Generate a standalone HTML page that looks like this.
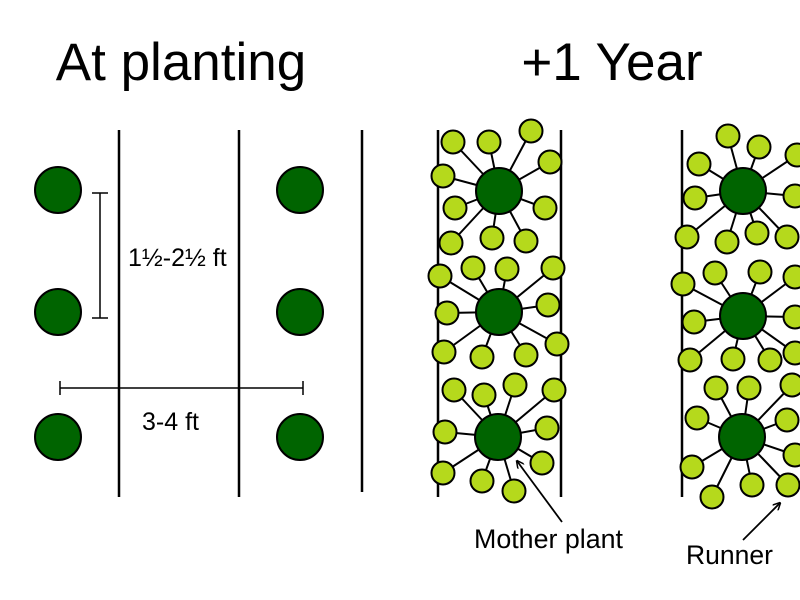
<!DOCTYPE html>
<html><head><meta charset="utf-8"><style>html,body{margin:0;padding:0;background:#fff}svg{display:block}</style></head>
<body>
<svg id="s" width="800" height="600" xmlns="http://www.w3.org/2000/svg" font-family="Liberation Sans, sans-serif">
<defs><marker id="ah" markerWidth="8" markerHeight="8" refX="7" refY="4" orient="auto" markerUnits="userSpaceOnUse"><path d="M0,0 L8,4 L0,8" fill="none" stroke="#000" stroke-width="1.5"/></marker></defs>
<text x="181" y="80" font-size="53" text-anchor="middle">At planting</text>
<text x="612" y="80" font-size="53" text-anchor="middle">+1 Year</text>
<g stroke="#000" stroke-width="2.5">
<line x1="119" y1="130" x2="119" y2="497"/><line x1="239" y1="130" x2="239" y2="497"/><line x1="362" y1="130" x2="362" y2="492"/>
<line x1="438" y1="130" x2="438" y2="497"/><line x1="561" y1="130" x2="561" y2="497"/><line x1="682" y1="130" x2="682" y2="497"/>
</g>
<g stroke="#000" stroke-width="1.5">
<line x1="100" y1="193" x2="100" y2="318"/><line x1="92" y1="193" x2="108" y2="193"/><line x1="92" y1="318" x2="108" y2="318"/>
<line x1="60" y1="388" x2="303" y2="388"/><line x1="60" y1="381" x2="60" y2="395"/><line x1="303" y1="381" x2="303" y2="395"/>
</g>
<text x="128" y="266" font-size="25">1½-2½ ft</text>
<text x="142" y="430" font-size="25">3-4 ft</text>
<g id="g" stroke="#000" stroke-width="2"></g>
<line x1="562" y1="522" x2="517" y2="461" stroke="#000" stroke-width="1.8" marker-end="url(#ah)"/>
<line x1="743" y1="540" x2="780" y2="503" stroke="#000" stroke-width="1.8" marker-end="url(#ah)"/>
<text x="474" y="548" font-size="26.8">Mother plant</text>
<text x="686" y="564" font-size="26.5">Runner</text>
</svg>
<script>
var g=document.getElementById('g'),h='';
[[58,190],[58,312],[58,437],[300,190],[300,312],[300,437]].forEach(function(c){h+='<circle cx="'+c[0]+'" cy="'+c[1]+'" r="23" fill="#006400"/>';});
var cl=[
[[499,191],[[453,142],[489,142],[531,131],[550,162],[443,176],[455,208],[545,208],[451,243],[492,238],[526,241]]],
[[499,312],[[440,276],[473,268],[507,269],[553,268],[447,313],[548,305],[444,352],[482,357],[526,355],[557,344]]],
[[498,437],[[454,390],[484,395],[515,385],[554,390],[445,432],[547,428],[542,463],[443,473],[482,481],[514,491]]],
[[743,191],[[728,136],[759,147],[699,164],[797,155],[695,198],[795,196],[687,237],[727,242],[757,233],[787,237]]],
[[743,316],[[715,273],[760,272],[795,277],[683,284],[694,322],[795,317],[690,360],[733,359],[770,360],[795,353]]],
[[742,437],[[716,388],[749,388],[792,385],[697,418],[787,420],[692,467],[795,455],[712,497],[752,485],[788,485]]]];
cl.forEach(function(k){var c=k[0];k[1].forEach(function(p){h+='<line x1="'+c[0]+'" y1="'+c[1]+'" x2="'+p[0]+'" y2="'+p[1]+'"/>';});});
cl.forEach(function(k){var c=k[0];h+='<circle cx="'+c[0]+'" cy="'+c[1]+'" r="23" fill="#006400"/>';k[1].forEach(function(p){h+='<circle cx="'+p[0]+'" cy="'+p[1]+'" r="11.5" fill="#b5d91c"/>';});});
g.innerHTML=h;
</script>
</body></html>
